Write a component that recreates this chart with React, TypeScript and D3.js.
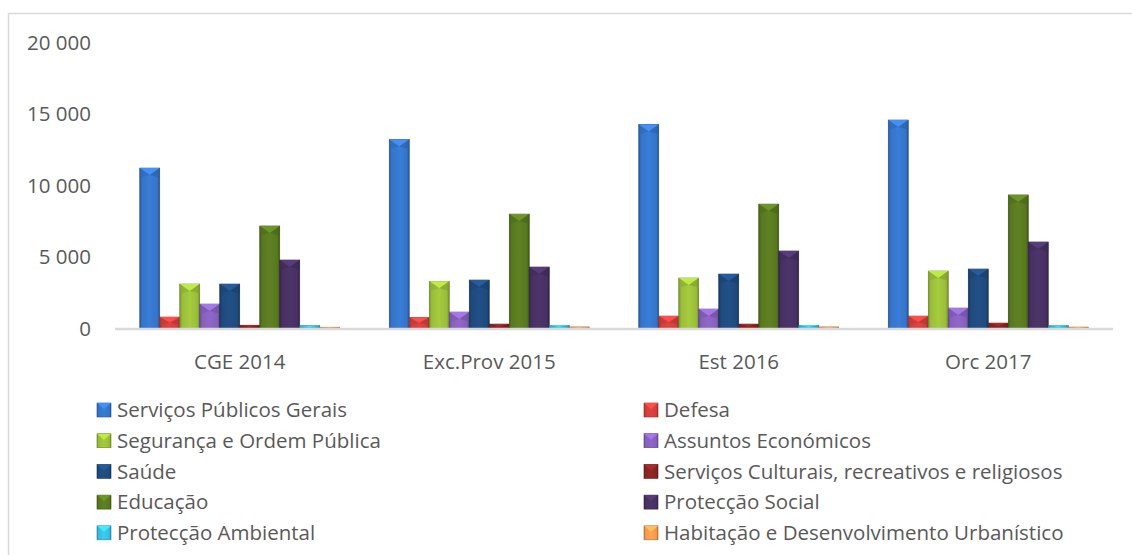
import React, { useEffect, useRef } from 'react';
import * as d3 from 'd3';

// categories on the x axis
const years = ['CGE 2014', 'Exc.Prov 2015', 'Est 2016', 'Orc 2017'];

const seriesNames = [
  'Serviços Públicos Gerais',
  'Defesa',
  'Segurança e Ordem Pública',
  'Assuntos Económicos',
  'Saúde',
  'Serviços Culturais, recreativos e religiosos',
  'Educação',
  'Protecção Social',
  'Protecção Ambiental',
  'Habitação e Desenvolvimento Urbanístico',
];

const seriesColors = [
  '#3574c8', '#cf3f3c', '#9abd3a', '#8660bb', '#1f4a7d',
  '#872424', '#587820', '#473062', '#38bde0', '#f39a4c',
];

// values per series, one per year
const servicosPublicos = [11220, 13220, 14270, 14580];
const defesa = [800, 780, 870, 870];
const seguranca = [3110, 3300, 3530, 4020];
const assuntosEconomicos = [1710, 1150, 1360, 1430];
const saude = [3110, 3390, 3810, 4160];
const culturais = [230, 310, 310, 380];
const educacao = [7170, 8000, 8700, 9340];
const proteccaoSocial = [4790, 4300, 5420, 6050];
const ambiental = [200, 220, 220, 210];
const habitacao = [90, 110, 110, 100];

const seriesValues = [
  servicosPublicos, defesa, seguranca, assuntosEconomicos, saude,
  culturais, educacao, proteccaoSocial, ambiental, habitacao,
];

const yTicks = [0, 5000, 10000, 15000, 20000];

const W = 1132;
const H = 555;
const FONT = '"Open Sans", Lato, sans-serif';

const App = () => {
  const ref = useRef<SVGSVGElement>(null);

  useEffect(() => {
    const svg = d3.select(ref.current);
    svg.selectAll('*').remove();

    const left = 115, right = 1113, top = 42.5, bottom = 328.5;

    const x = d3.scaleBand().domain(years).range([left, right]).padding(0);
    const inner = d3.scaleBand().domain(seriesNames).range([0, 200]);
    const y = d3.scaleLinear().domain([0, 20000]).range([bottom, top]);

    const defs = svg.append('defs');
    seriesColors.forEach((c, i) => {
      const g = defs.append('linearGradient').attr('id', `grad${i}`)
        .attr('x1', 0).attr('x2', 1).attr('y1', 0).attr('y2', 0);
      const col = d3.color(c)!;
      g.append('stop').attr('offset', '0%').attr('stop-color', col.darker(0.7).toString());
      g.append('stop').attr('offset', '12%').attr('stop-color', c);
      g.append('stop').attr('offset', '50%').attr('stop-color', col.brighter(0.2).toString());
      g.append('stop').attr('offset', '88%').attr('stop-color', c);
      g.append('stop').attr('offset', '100%').attr('stop-color', col.darker(0.9).toString());
    });

    // outer frame (top + left visible)
    svg.append('path')
      .attr('d', `M8.5,${H} V13.5 H${W}`)
      .attr('fill', 'none').attr('stroke', '#d9d9d9').attr('stroke-width', 1.5);

    // y tick labels
    svg.append('g').selectAll('text').data(yTicks).join('text')
      .attr('x', 91).attr('y', d => y(d)).attr('dy', '0.36em')
      .attr('text-anchor', 'end').attr('font-family', FONT)
      .attr('font-size', 20.5).attr('fill', '#595959')
      .text(d => d3.format(',')(d).replace(/,/g, ' '));

    // bars
    const groups = svg.append('g').selectAll('g').data(years).join('g')
      .attr('transform', d => `translate(${x(d)! + (x.bandwidth() - 200) / 2},0)`);

    groups.each(function (_, yi) {
      const g = d3.select(this);
      seriesNames.forEach((name, si) => {
        const v = seriesValues[si][yi];
        const bx = inner(name)!;
        const bw = inner.bandwidth();
        const by = y(v);
        const bh = bottom - by;
        const col = d3.color(seriesColors[si])!;
        g.append('rect')
          .attr('x', bx).attr('y', by).attr('width', bw).attr('height', bh)
          .attr('fill', `url(#grad${si})`)
          .attr('stroke', col.darker(1.2).toString()).attr('stroke-width', 0.6);
        const bev = Math.min(7, bh * 0.5);
        g.append('path')
          .attr('d', `M${bx},${by} L${bx + bw},${by} L${bx + bw / 2},${by + bev} Z`)
          .attr('fill', col.brighter(0.6).toString());
        g.append('path')
          .attr('d', `M${bx},${by} L${bx + bw / 2},${by + bev} L${bx},${by + bev * 1.4} Z`)
          .attr('fill', col.darker(0.3).toString()).attr('opacity', 0.6);
        g.append('path')
          .attr('d', `M${bx + bw},${by} L${bx + bw / 2},${by + bev} L${bx + bw},${by + bev * 1.4} Z`)
          .attr('fill', col.darker(0.5).toString()).attr('opacity', 0.6);
      });
    });

    // baseline
    svg.append('line')
      .attr('x1', left).attr('x2', right).attr('y1', bottom + 0.5).attr('y2', bottom + 0.5)
      .attr('stroke', '#d9d9d9').attr('stroke-width', 2.5);

    // x labels
    svg.append('g').selectAll('text').data(years).join('text')
      .attr('x', d => x(d)! + x.bandwidth() / 2).attr('y', 362).attr('dy', '0.36em')
      .attr('text-anchor', 'middle').attr('font-family', FONT)
      .attr('font-size', 20.5).attr('fill', '#595959')
      .text(d => d);

    // legend, two columns
    const legend = svg.append('g').selectAll('g').data(seriesNames).join('g')
      .attr('transform', (_, i) => `translate(${i % 2 === 0 ? 97 : 644},${410 + Math.floor(i / 2) * 30.7})`);

    legend.each(function (_, i) {
      const g = d3.select(this);
      const col = d3.color(seriesColors[i])!;
      g.append('rect').attr('x', 0).attr('y', -7).attr('width', 14).attr('height', 14)
        .attr('fill', `url(#grad${i})`).attr('stroke', col.darker(1).toString()).attr('stroke-width', 0.6);
      g.append('path').attr('d', 'M0,-7 L14,-7 L7,-1 Z').attr('fill', col.brighter(0.6).toString());
    });

    legend.append('text')
      .attr('x', 20).attr('y', 0).attr('dy', '0.36em')
      .attr('font-family', FONT).attr('font-size', 20.5).attr('fill', '#595959')
      .text(d => d);
  }, []);

  return (
    <svg ref={ref} width={W} height={H}
      style={{ position: 'absolute', left: 0, top: 0, background: '#fff' }} />
  );
};

export default App;
